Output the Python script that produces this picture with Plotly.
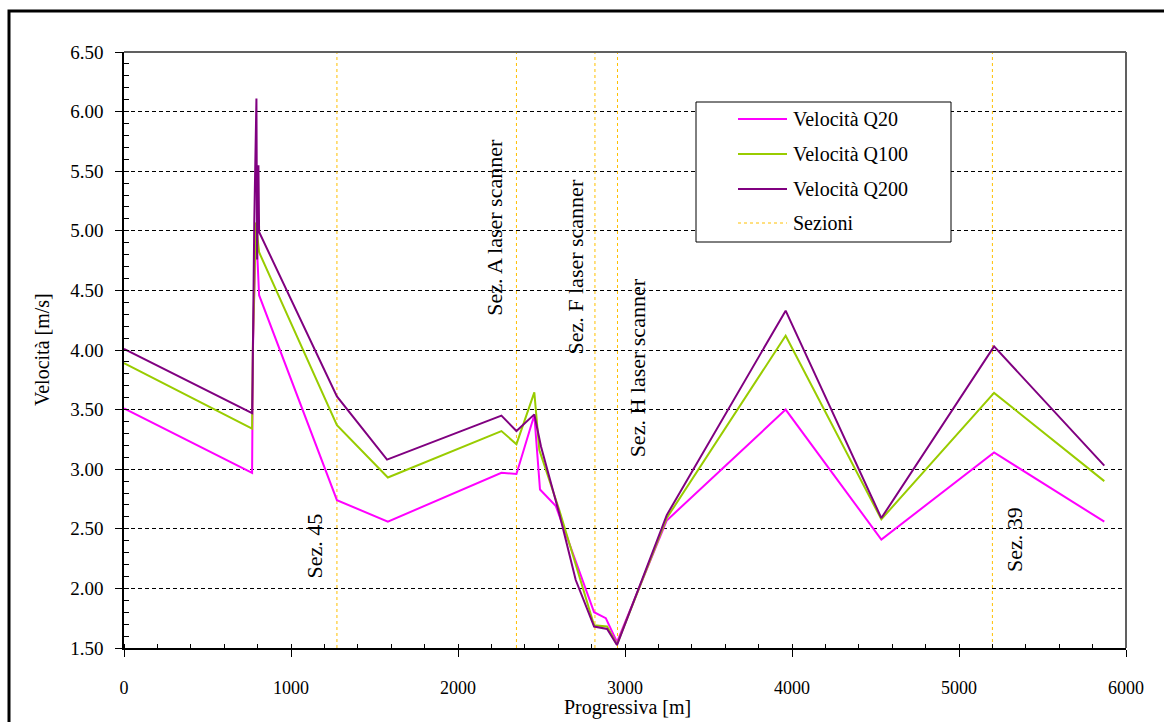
import plotly.graph_objects as go

# Progressiva [m] and velocity [m/s] for each flow scenario
dist_q20 = [0, 767, 772, 790, 809, 1275, 1580, 2260, 2350, 2457, 2491, 2586,
            2815, 2885, 2952, 3250, 3962, 4535, 5210, 5870]
vel_q20 = [3.51, 2.97, 4.00, 5.05, 4.46, 2.74, 2.56, 2.97, 2.96, 3.455, 2.83, 2.69,
           1.80, 1.75, 1.55, 2.57, 3.50, 2.41, 3.14, 2.56]

dist_q100 = [0, 767, 772, 790, 809, 1275, 1580, 2260, 2350, 2457, 2487, 2606,
             2815, 2893, 2952, 3250, 3962, 4535, 5210, 5870]
vel_q100 = [3.89, 3.34, 4.06, 5.07, 4.82, 3.37, 2.93, 3.32, 3.21, 3.645, 3.16, 2.66,
            1.69, 1.68, 1.53, 2.59, 4.12, 2.58, 3.64, 2.90]

dist_q200 = [0, 767, 770, 780, 793, 797, 805, 809, 1275, 1575, 2260, 2350, 2457,
             2497, 2606, 2705, 2815, 2893, 2952, 3250, 3962, 4535, 5210, 5870]
vel_q200 = [4.01, 3.47, 3.75, 5.07, 6.11, 4.76, 5.55, 4.99, 3.61, 3.08, 3.45, 3.32, 3.46,
            3.19, 2.63, 2.07, 1.68, 1.66, 1.525, 2.615, 4.33, 2.59, 4.03, 3.03]

# Cross-section positions and their labels
section_x = [1275, 2350, 2820, 2955, 5200]
section_labels = ["Sez. 45", "Sez. A laser scanner", "Sez. F laser scanner",
                  "Sez. H laser scanner", "Sez. 39"]

series_names = ["Velocità Q20", "Velocità Q100", "Velocità Q200", "Sezioni"]
series_colors = ["#FF00FF", "#99CC00", "#800080", "#FFC000"]

X_RANGE = [0, 6000]
Y_RANGE = [1.5, 6.5]

# Figure geometry (pixels)
W, H = 1164, 722
ML, MR, MT, MB = 124, 38, 52, 74
PW, PH = W - ML - MR, H - MT - MB


def px(x):
    return (x - ML) / PW


def py(y):
    return (H - MB - y) / PH


FONT = "Liberation Serif, Times New Roman, serif"

fig = go.Figure()

# Section verticals (one trace, broken by None)
sx, sy = [], []
for s in section_x:
    sx += [s, s, None]
    sy += [Y_RANGE[0], Y_RANGE[1], None]
fig.add_trace(go.Scatter(x=sx, y=sy, mode="lines", name=series_names[3],
                         line=dict(color=series_colors[3], width=1, dash="dot"),
                         hoverinfo="skip"))

for dist, vel, name, color in [(dist_q20, vel_q20, series_names[0], series_colors[0]),
                               (dist_q100, vel_q100, series_names[1], series_colors[1]),
                               (dist_q200, vel_q200, series_names[2], series_colors[2])]:
    fig.add_trace(go.Scatter(x=dist, y=vel, mode="lines", name=name,
                             line=dict(color=color, width=2)))

# Rotated section labels: (y position in m/s, horizontal shift in px)
label_pos = [(2.36, -22), (5.03, -22), (4.70, -19), (3.85, 20), (2.41, 22)]
annotations = []
for s, text, (ly, shift) in zip(section_x, section_labels, label_pos):
    annotations.append(dict(x=s, y=ly, xref="x", yref="y", text=text, textangle=-90,
                            showarrow=False, xshift=shift, xanchor="center",
                            yanchor="middle", font=dict(family=FONT, size=22, color="black")))

# Axis titles
annotations.append(dict(x=px(627), y=py(707), xref="paper", yref="paper",
                        text="Progressiva [m]", showarrow=False, xanchor="center",
                        yanchor="middle", font=dict(family=FONT, size=20, color="black")))
annotations.append(dict(x=px(42), y=py(350), xref="paper", yref="paper",
                        text="Velocità [m/s]", showarrow=False, textangle=-90,
                        xanchor="center", yanchor="middle",
                        font=dict(family=FONT, size=20, color="black")))

shapes = []
# Outer frame
shapes.append(dict(type="rect", xref="paper", yref="paper", x0=px(9), x1=px(1175),
                   y0=py(735), y1=py(11), line=dict(color="black", width=3),
                   layer="above"))
# Plot-area top and right border
shapes.append(dict(type="line", xref="paper", yref="paper", x0=0, x1=1, y0=1, y1=1,
                   line=dict(color="#606060", width=2), layer="above"))
shapes.append(dict(type="line", xref="paper", yref="paper", x0=1, x1=1, y0=0, y1=1,
                   line=dict(color="#606060", width=2), layer="above"))

# Legend box
shapes.append(dict(type="rect", xref="paper", yref="paper", x0=px(696), x1=px(951),
                   y0=py(242), y1=py(102), fillcolor="white",
                   line=dict(color="black", width=1), layer="above"))
legend_rows = [119, 154, 189, 223]
for name, color, row in zip(series_names, series_colors, legend_rows):
    is_section = name == series_names[3]
    shapes.append(dict(type="line", xref="paper", yref="paper", x0=px(738), x1=px(787),
                       y0=py(row), y1=py(row),
                       line=dict(color=color, width=1 if is_section else 2,
                                 dash="dot" if is_section else "solid"),
                       layer="above"))
    annotations.append(dict(x=px(791), y=py(row), xref="paper", yref="paper", text=name,
                            showarrow=False, xanchor="left", yanchor="middle",
                            font=dict(family=FONT, size=20, color="black")))

fig.update_layout(
    width=W, height=H,
    margin=dict(l=ML, r=MR, t=MT, b=MB),
    paper_bgcolor="white", plot_bgcolor="white",
    showlegend=False,
    font=dict(family=FONT, color="black"),
    annotations=annotations,
    shapes=shapes,
    xaxis=dict(range=X_RANGE, tick0=0, dtick=1000, ticks="outside", ticklen=7,
               tickcolor="black", showline=True, linecolor="black", linewidth=1.5,
               showgrid=False, zeroline=False, tickfont=dict(family=FONT, size=18),
               ticklabelstandoff=16,
               minor=dict(ticks="inside", dtick=200, ticklen=4, tickcolor="black",
                          showgrid=False)),
    yaxis=dict(range=Y_RANGE, tick0=1.5, dtick=0.5, tickformat=".2f", ticks="outside",
               ticklen=7, tickcolor="black", showline=True, linecolor="black",
               linewidth=1.5, showgrid=True, gridcolor="black", gridwidth=1,
               griddash="4px,3px", zeroline=False, tickfont=dict(family=FONT, size=19),
               ticklabelstandoff=8,
               minor=dict(ticks="inside", dtick=0.1, ticklen=5, tickcolor="black",
                          showgrid=False)),
)

fig.write_html("out.html")
